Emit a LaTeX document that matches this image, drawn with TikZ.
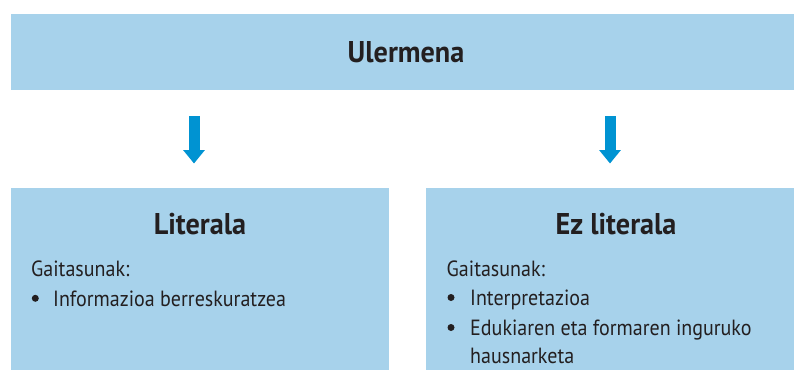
\documentclass[tikz,border=0pt]{standalone}
\usepackage{fontspec}
\setmainfont{PT Sans}
\newfontfamily\bodyfont{PT Sans}[FakeStretch=0.91]
\newfontfamily\titlefont{PT Sans}[FakeStretch=0.94]
\usetikzlibrary{arrows.meta}
\definecolor{boxblue}{HTML}{A7D2EB}
\definecolor{arrowblue}{HTML}{0093D2}
\definecolor{ink}{HTML}{231F20}
\tikzset{
  panel/.style={fill=boxblue, draw=none, inner sep=0pt, anchor=north west},
  titletext/.style={font=\titlefont\fontsize{30}{36}\selectfont\bfseries, text=ink, inner sep=0pt, anchor=base},
  bodytext/.style={font=\bodyfont\fontsize{22}{29}\selectfont, text=ink, inner sep=0pt, anchor=base west, align=left},
  bulletdot/.style={circle, fill=ink, draw=none, inner sep=0pt, minimum size=7pt},
  bigarrow/.style={draw=arrowblue, line width=11pt, -{Triangle[width=21pt,length=13.5pt]}}
}
\begin{document}
\begin{tikzpicture}[x=1pt,y=-1pt]
\useasboundingbox (0,0) rectangle (794,370);
% panels
\node[panel, minimum width=783pt, minimum height=76pt] (top) at (11,14) {};
\node[panel, minimum width=378pt, minimum height=182pt] (lit) at (11,188) {};
\node[panel, minimum width=368pt, minimum height=182pt] (ezlit) at (426,188) {};
% titles
\node[titletext] (ttop) at (406,62) {Ulermena};
\node[titletext] (tlit) at (200,234) {Literala};
\node[titletext] (tez) at (616,234) {Ez literala};
% left body
\node[bodytext] (lg) at (31,276) {Gaitasunak:};
\node[bulletdot] (lb1) at (35.3,298.3) {};
\node[bodytext] (l1) at (53,306) {Informazioa berreskuratzea};
% right body
\node[bodytext] (rg) at (446.5,276.5) {Gaitasunak:};
\node[bulletdot] (rb1) at (451,297.5) {};
\node[bodytext] (r1) at (470,305.5) {Interpretazioa};
\node[bulletdot] (rb2) at (451,327.5) {};
\node[bodytext] (r2) at (470,335.5) {Edukiaren eta formaren inguruko};
\node[bodytext] (r3) at (470,363.5) {hausnarketa};
% arrows
\coordinate (a1s) at (194,116);
\coordinate (a1e) at (194,163.5);
\coordinate (a2s) at (610,116);
\coordinate (a2e) at (610,163.5);
\draw[bigarrow] (a1s) -- (a1e);
\draw[bigarrow] (a2s) -- (a2e);
\end{tikzpicture}
\end{document}
